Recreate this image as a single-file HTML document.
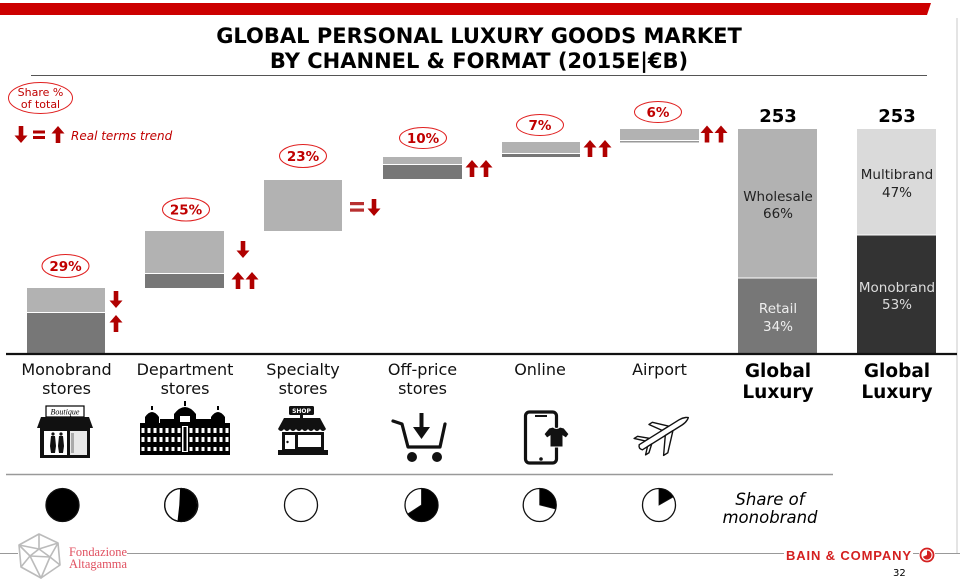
<!DOCTYPE html>
<html><head><meta charset="utf-8"><style>
html,body{margin:0;padding:0;background:#fff;}
svg{display:block;}
text{font-family:"DejaVu Sans","Liberation Sans",sans-serif;}
</style></head><body>
<svg width="960" height="580" viewBox="0 0 960 580" xmlns="http://www.w3.org/2000/svg">
<defs>
<path id="up" d="M0,0 L6.5,7.5 L2.3,7.5 L2.3,17 L-2.3,17 L-2.3,7.5 L-6.5,7.5 Z" fill="#b00000"/>
<path id="dn" d="M0,17 L6.5,9.5 L2.3,9.5 L2.3,0 L-2.3,0 L-2.3,9.5 L-6.5,9.5 Z" fill="#b00000"/>
<pattern id="win" x="140" y="426" width="6" height="9" patternUnits="userSpaceOnUse">
<rect x="0" y="0" width="6" height="9" fill="#000"/>
<rect x="1.5" y="2" width="3" height="5" fill="#fff"/>
</pattern>
</defs>

<!-- top red bar -->
<polygon points="0,3 931,3 927,15 0,15" fill="#cc0000"/>
<line x1="957" y1="18" x2="957" y2="553" stroke="#c8c8c8" stroke-width="1"/>

<!-- title -->
<text x="479" y="43" text-anchor="middle" font-size="21" font-weight="bold" fill="#000">GLOBAL PERSONAL LUXURY GOODS MARKET</text>
<text x="479" y="68" text-anchor="middle" font-size="21" font-weight="bold" fill="#000">BY CHANNEL &amp; FORMAT (2015E|€B)</text>
<line x1="31" y1="75.5" x2="927" y2="75.5" stroke="#555" stroke-width="1"/>

<!-- legend -->
<ellipse cx="40.5" cy="98" rx="32" ry="15.5" fill="none" stroke="#e02020" stroke-width="1"/>
<text x="40.5" y="96" text-anchor="middle" font-size="11" fill="#c00000">Share %</text>
<text x="40.5" y="108" text-anchor="middle" font-size="11" fill="#c00000">of total</text>
<use href="#dn" transform="translate(21,126)"/>
<rect x="33" y="130.5" width="12" height="3" fill="#b00000"/>
<rect x="33" y="136" width="12" height="3" fill="#b00000"/>
<use href="#up" transform="translate(58,126)"/>
<text x="71" y="140" font-size="12" font-style="italic" fill="#c00000">Real terms trend</text>

<!-- bars -->
<rect x="27" y="288" width="78" height="24" fill="#b2b2b2"/>
<rect x="27" y="313" width="78" height="40" fill="#777"/>

<rect x="145" y="231" width="79" height="42" fill="#b2b2b2"/>
<rect x="145" y="274" width="79" height="14" fill="#777"/>

<rect x="264" y="180" width="78" height="51" fill="#b2b2b2"/>

<rect x="383" y="157" width="79" height="7" fill="#b2b2b2"/>
<rect x="383" y="165" width="79" height="14" fill="#777"/>

<rect x="502" y="142" width="78" height="11" fill="#b2b2b2"/>
<rect x="502" y="154" width="78" height="3" fill="#777"/>

<rect x="620" y="129" width="79" height="11" fill="#b2b2b2"/>
<rect x="620" y="141" width="79" height="1.5" fill="#999"/>

<rect x="738" y="129" width="79" height="148.5" fill="#b2b2b2"/>
<rect x="738" y="278.5" width="79" height="74.5" fill="#777"/>

<rect x="857" y="129" width="79" height="105.5" fill="#dadada"/>
<rect x="857" y="235.5" width="79" height="117.5" fill="#333"/>

<!-- baseline -->
<line x1="6" y1="354" x2="957" y2="354" stroke="#111" stroke-width="2.2"/>

<!-- percent ellipses -->
<g fill="none" stroke="#e02020" stroke-width="1">
<ellipse cx="65.5" cy="266" rx="23.5" ry="11.5"/>
<ellipse cx="186" cy="209.5" rx="23.5" ry="11.5"/>
<ellipse cx="303" cy="156" rx="23.5" ry="11.5"/>
<ellipse cx="423" cy="138" rx="23.5" ry="10.5"/>
<ellipse cx="540" cy="125" rx="23.5" ry="10.5"/>
<ellipse cx="658" cy="112" rx="23.5" ry="10.5"/>
</g>
<g font-size="13.5" font-weight="bold" fill="#c00000" text-anchor="middle">
<text x="65.5" y="271">29%</text>
<text x="186" y="214.5">25%</text>
<text x="303" y="161">23%</text>
<text x="423" y="143">10%</text>
<text x="540" y="130">7%</text>
<text x="658" y="117">6%</text>
</g>

<!-- trend arrows -->
<use href="#dn" transform="translate(116,291)"/>
<use href="#up" transform="translate(116,315)"/>
<use href="#dn" transform="translate(243,241)"/>
<use href="#up" transform="translate(238,272)"/>
<use href="#up" transform="translate(252,272)"/>
<rect x="350" y="202" width="14" height="3.2" fill="#b83030"/>
<rect x="350" y="208.5" width="14" height="3.2" fill="#b83030"/>
<use href="#dn" transform="translate(374,199)"/>
<use href="#up" transform="translate(472,160)"/>
<use href="#up" transform="translate(486,160)"/>
<use href="#up" transform="translate(590,140)"/>
<use href="#up" transform="translate(605,140)"/>
<use href="#up" transform="translate(707,125.5)"/>
<use href="#up" transform="translate(721,125.5)"/>

<!-- totals -->
<text x="778" y="122" text-anchor="middle" font-size="18" font-weight="bold" fill="#000">253</text>
<text x="897" y="122" text-anchor="middle" font-size="18" font-weight="bold" fill="#000">253</text>
<g font-size="13.5" text-anchor="middle">
<text x="778" y="201" fill="#222">Wholesale</text>
<text x="778" y="218" fill="#222">66%</text>
<text x="778" y="313" fill="#eee">Retail</text>
<text x="778" y="331" fill="#eee">34%</text>
<text x="897" y="179" fill="#222">Multibrand</text>
<text x="897" y="197" fill="#222">47%</text>
<text x="897" y="292" fill="#ddd">Monobrand</text>
<text x="897" y="309" fill="#ddd">53%</text>
</g>

<!-- category labels -->
<g font-size="16" fill="#111" text-anchor="middle">
<text x="66.5" y="375">Monobrand</text>
<text x="66.5" y="394">stores</text>
<text x="185" y="375">Department</text>
<text x="185" y="394">stores</text>
<text x="303" y="375">Specialty</text>
<text x="303" y="394">stores</text>
<text x="422.5" y="375">Off-price</text>
<text x="422.5" y="394">stores</text>
<text x="540" y="375">Online</text>
<text x="659.5" y="375">Airport</text>
</g>
<g font-size="18.5" font-weight="bold" fill="#000" text-anchor="middle">
<text x="778" y="377">Global</text>
<text x="778" y="398">Luxury</text>
<text x="897" y="377">Global</text>
<text x="897" y="398">Luxury</text>
</g>

<!-- icon: boutique -->
<g>
<rect x="46" y="406" width="38" height="11" fill="#fff" stroke="#000" stroke-width="1.2"/>
<text x="65" y="414.5" text-anchor="middle" font-size="8" font-style="italic" fill="#000" style="font-family:'Liberation Serif',serif">Boutique</text>
<path d="M41,417 L89,417 L93,428 L37,428 Z" fill="#111"/>
<rect x="40" y="428" width="50" height="30" fill="#111"/>
<rect x="44" y="431" width="23" height="24" fill="#fff"/>
<rect x="70" y="431" width="17" height="24" fill="#e8e8e8"/>
<rect x="71" y="433" width="3" height="20" fill="#aaa"/>
<path d="M51,436 L55,436 L56,446 L55,453 L51,453 L50,446 Z" fill="#111"/>
<circle cx="53" cy="434" r="1.6" fill="#111"/>
<path d="M59,436 L63,436 L64,446 L63,453 L59,453 L58,446 Z" fill="#111"/>
<circle cx="61" cy="434" r="1.6" fill="#111"/>
</g>

<!-- icon: department store -->
<g>
<rect x="140" y="424" width="90" height="31" fill="url(#win)"/>
<rect x="140" y="423" width="90" height="3" fill="#000"/>
<rect x="140" y="435" width="90" height="2" fill="#000"/>
<rect x="140" y="445" width="90" height="2" fill="#000"/>
<rect x="140" y="452" width="90" height="3" fill="#000"/>
<path d="M174,424 L174,414 Q185,400 196,414 L196,424 Z" fill="#000"/>
<rect x="184" y="401" width="2" height="5" fill="#000"/>
<path d="M145,424 L145,417 Q152,407 159,417 L159,424 Z" fill="#000"/>
<rect x="151" y="406" width="2" height="4" fill="#000"/>
<path d="M211,424 L211,417 Q218,407 225,417 L225,424 Z" fill="#000"/>
<rect x="217" y="406" width="2" height="4" fill="#000"/>
<rect x="160" y="419" width="14" height="5" fill="#000"/>
<rect x="196" y="419" width="15" height="5" fill="#000"/>
<rect x="180" y="416" width="10" height="6" fill="#fff"/>
<rect x="182" y="426" width="6" height="26" fill="#fff"/>
<rect x="183.5" y="427" width="3" height="24" fill="#000"/>
</g>

<!-- icon: shop -->
<g>
<rect x="289" y="406" width="25" height="9" rx="1.5" fill="#111"/>
<text x="301.5" y="413" text-anchor="middle" font-size="6" font-weight="bold" fill="#fff">SHOP</text>
<rect x="300" y="415" width="3" height="3" fill="#111"/>
<path d="M284,418 L320,418 L326,429 L278,429 Z" fill="#111"/>
<path d="M278,429 Q281,433 284,429 Q287,433 290,429 Q293,433 296,429 Q299,433 302,429 Q305,433 308,429 Q311,433 314,429 Q317,433 320,429 Q323,433 326,429 Z" fill="#111"/>
<rect x="282" y="432" width="42" height="19" fill="#111"/>
<rect x="285" y="435" width="10" height="14" fill="#fff"/>
<circle cx="287.5" cy="442" r="1.2" fill="#111"/>
<rect x="298" y="435" width="23" height="12" fill="#fff"/>
<rect x="278" y="450" width="50" height="5" fill="#111"/>
</g>

<!-- icon: cart -->
<g fill="none" stroke="#111" stroke-width="3.2" stroke-linejoin="round" stroke-linecap="round">
<path d="M393,421 L402,424 L408,447 L440,447 L445,424"/>
</g>
<rect x="419.5" y="413" width="4" height="18" fill="#111"/>
<path d="M413,427 L430,427 L421.5,439 Z" fill="#111"/>
<circle cx="412" cy="457" r="5" fill="#111"/>
<circle cx="437" cy="457" r="5" fill="#111"/>

<!-- icon: phone -->
<rect x="525.5" y="412" width="31" height="51" rx="4" fill="none" stroke="#111" stroke-width="3.2"/>
<rect x="535" y="415" width="12" height="2" fill="#111"/>
<circle cx="541" cy="459" r="1.8" fill="#111"/>
<path d="M549,428 L553,427 Q556.5,430 560,427 L564,428 L569,434 L566,438 L563,436 L563,447 L550,447 L550,436 L547,438 L544,434 Z" fill="#111" stroke="#fff" stroke-width="1"/>

<!-- icon: airplane -->
<g transform="translate(662,434) rotate(-32)" fill="#fff" stroke="#111" stroke-width="1.4" stroke-linejoin="round">
<path d="M-18,-3 L-26,-11 L-22,-11 L-13,-3 Z"/>
<path d="M2,-3 L-6,-15 L-2,-15 L10,-3 Z"/>
<path d="M-25,-3 L22,-3 C28,-3 31,0 31,0 C31,0 28,3 22,3 L-25,3 Q-28,0 -25,-3 Z"/>
<path d="M2,3 L-10,19 L-5,19 L11,3 Z"/>
<path d="M-19,3 L-25,9 L-21,9 L-14,3 Z"/>
</g>

<!-- separator -->
<line x1="6" y1="474.5" x2="833" y2="474.5" stroke="#999" stroke-width="1.5"/>

<!-- pies -->
<g stroke="#111" stroke-width="1.3">
<circle cx="62.5" cy="505" r="16.5" fill="#000"/>
<circle cx="181.2" cy="505" r="16.5" fill="#fff"/>
<path d="M179.3,505 L180.1,488.5 A16.5,16.5 0 1 1 177.5,521.2 Z" fill="#000" stroke="none"/>
<circle cx="181.2" cy="505" r="16.5" fill="none"/>
<circle cx="301" cy="505" r="16.5" fill="#fff"/>
<circle cx="421.5" cy="505" r="16.5" fill="#fff"/>
<path d="M421.5,505 L421.5,488.5 A16.5,16.5 0 1 1 407.7,514 Z" fill="#000" stroke-width="0.8"/>
<circle cx="539.7" cy="505" r="16.5" fill="#fff"/>
<path d="M539.7,505 L539.7,488.5 A16.5,16.5 0 0 1 555.7,509 Z" fill="#000" stroke-width="0.8"/>
<circle cx="659" cy="505" r="16.5" fill="#fff"/>
<path d="M659,505 L659,488.5 A16.5,16.5 0 0 1 673.3,496.8 Z" fill="#000" stroke-width="0.8"/>
</g>
<text x="770" y="505" text-anchor="middle" font-size="16.5" font-style="italic" fill="#000">Share of</text>
<text x="770" y="523" text-anchor="middle" font-size="16.5" font-style="italic" fill="#000">monobrand</text>

<!-- footer -->
<line x1="0" y1="553.5" x2="18" y2="553.5" stroke="#999" stroke-width="1"/>
<line x1="127" y1="553.5" x2="784" y2="553.5" stroke="#999" stroke-width="1"/>
<line x1="913" y1="553.5" x2="919" y2="553.5" stroke="#999" stroke-width="1"/>
<line x1="935" y1="553.5" x2="960" y2="553.5" stroke="#999" stroke-width="1"/>

<!-- altagamma logo -->
<g fill="none" stroke="#bbb" stroke-width="1.6" stroke-linejoin="round">
<polygon points="39,534 58,543 60,565 41,578 21,567 19,545"/>
<polyline points="19,545 39,549 58,543"/>
<polyline points="39,534 39,549"/>
<polyline points="21,567 30,556 41,578 50,557 60,565"/>
<polyline points="30,556 50,557 39,549 30,556"/>
<polyline points="19,545 30,556"/>
<polyline points="58,543 50,557"/>
</g>
<text x="69" y="556" font-size="12.5" fill="#e05060" textLength="58" lengthAdjust="spacingAndGlyphs" style="font-family:'Liberation Serif',serif">Fondazione</text>
<text x="69" y="568" font-size="12.5" fill="#e05060" textLength="58" lengthAdjust="spacingAndGlyphs" style="font-family:'Liberation Serif',serif">Altagamma</text>

<!-- bain -->
<text x="786" y="560" font-size="13" font-weight="bold" fill="#d42020" textLength="125" lengthAdjust="spacing" style="font-family:'Liberation Sans',sans-serif">BAIN &amp; COMPANY</text>
<circle cx="927" cy="555" r="6.5" fill="none" stroke="#d42020" stroke-width="1.8"/>
<path d="M927,555 L927,550.5 A4.5,4.5 0 1 1 922.9,556.8 Z" fill="#d42020"/>
<text x="893" y="576" font-size="10" fill="#000">32</text>
</svg>
</body></html>
